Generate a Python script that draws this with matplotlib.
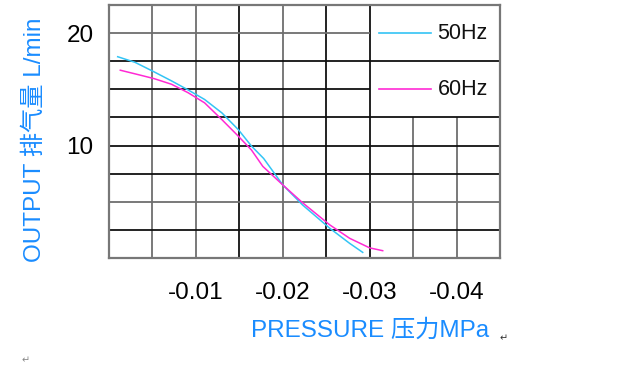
import matplotlib
matplotlib.use("Agg")
import matplotlib.pyplot as plt

plt.rcParams['font.family'] = ['Liberation Sans', 'Noto Sans CJK SC', 'DejaVu Sans']

# Data (pressure in MPa, output in L/min)
p50 = [-0.0010, -0.0030, -0.0052, -0.0072, -0.0091, -0.0110, -0.0130, -0.0149, -0.0164,
       -0.0178, -0.0200, -0.0223, -0.0254, -0.0277, -0.0292]
q50 = [17.9, 17.4, 16.55, 15.75, 14.95, 14.1, 12.9, 11.4, 9.95,
       8.85, 6.5, 4.7, 2.65, 1.3, 0.5]
p60 = [-0.0013, -0.0034, -0.0052, -0.0072, -0.0091, -0.0110, -0.0130, -0.0148, -0.0164,
       -0.0177, -0.0200, -0.0223, -0.0254, -0.0277, -0.0300, -0.0315]
q60 = [16.7, 16.3, 15.95, 15.45, 14.7, 13.8, 12.3, 10.9, 9.6,
       8.15, 6.5, 4.9, 2.95, 1.75, 0.9, 0.65]
series_names = ['50Hz', '60Hz']
xticks = [-0.01, -0.02, -0.03, -0.04]
xtick_labels = ['-0.01', '-0.02', '-0.03', '-0.04']
yticks = [10, 20]
ytick_labels = ['10', '20']

fig = plt.figure(figsize=(6.2, 3.75), dpi=100)
W, H = 620, 375
L, R, T, B = 109, 500, 5, 258
ax = fig.add_axes([L / W, 1 - B / H, (R - L) / W, (B - T) / H])
ax.set_xlim(0, -0.045)
ax.set_ylim(0, 22.5)

black = '#111111'
gray = '#6e6e6e'
# vertical grid lines (x value, color, top limit)
vlines = [(-0.005, gray, 22.5), (-0.010, gray, 22.5), (-0.015, black, 22.5),
          (-0.020, gray, 22.5), (-0.025, black, 22.5), (-0.030, black, 22.5),
          (-0.035, gray, 12.5), (-0.040, gray, 12.5)]
for x, c, top in vlines:
    ax.plot([x, x], [0, top], color=c, lw=1.3, zorder=1, solid_capstyle='butt')
# horizontal grid lines (y value, color, right limit)
hlines = [(2.5, black, -0.045), (5.0, gray, -0.045), (7.5, black, -0.045),
          (10.0, black, -0.045), (12.5, black, -0.045), (15.0, black, -0.03),
          (17.5, black, -0.045), (20.0, gray, -0.03)]
for y, c, right in hlines:
    ax.plot([0, right], [y, y], color=c, lw=1.3, zorder=1, solid_capstyle='butt')

for s in ax.spines.values():
    s.set_color('#777777')
    s.set_linewidth(1.6)

c50 = '#33c4f5'
c60 = '#ff2ad4'
ax.plot(p50, q50, color=c50, lw=1.1, zorder=3)
ax.plot(p60, q60, color=c60, lw=1.1, zorder=3)

# legend drawn inside the top-right box
ax.plot([-0.0311, -0.0371], [20.0, 20.0], color=c50, lw=1.2, zorder=3)
ax.plot([-0.0311, -0.0371], [15.0, 15.0], color=c60, lw=1.2, zorder=3)
ax.text(-0.0378, 20.0, series_names[0], fontsize=15.5, color=black, va='center', ha='left')
ax.text(-0.0378, 15.0, series_names[1], fontsize=15.5, color=black, va='center', ha='left')

ax.set_xticks(xticks)
ax.set_xticklabels(xtick_labels)
ax.set_yticks(yticks)
ax.set_yticklabels(ytick_labels)
ax.tick_params(length=0, labelsize=17.5, colors='black')
ax.tick_params(axis='x', pad=17)
ax.tick_params(axis='y', pad=11)

blue = '#1a8cff'
fig.text(370 / W, 1 - 330 / H, 'PRESSURE 压力MPa', fontsize=17.5, color=blue, ha='center', va='center')
fig.text(35 / W, 1 - 140 / H, 'OUTPUT 排气量 L/min', fontsize=17.5, color=blue, ha='center', va='center', rotation=90)
fig.text(500 / W, 1 - 338 / H, '↵', fontsize=7, color='#333333', ha='left', va='center', family=['DejaVu Sans'])
fig.text(22 / W, 1 - 360 / H, '↵', fontsize=7, color='#888888', ha='left', va='center', family=['DejaVu Sans'])

fig.savefig('out.png', dpi=100, facecolor='white')
